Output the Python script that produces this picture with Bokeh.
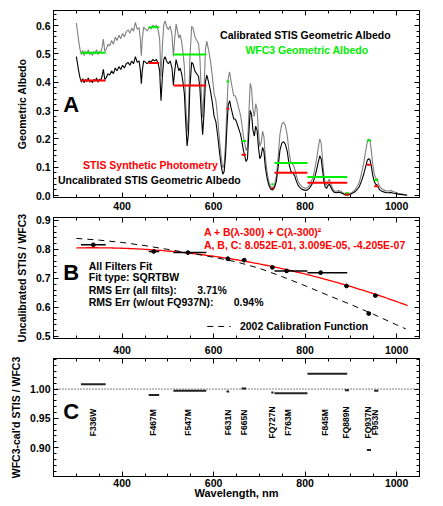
import numpy as np
from bokeh.plotting import figure
from bokeh.models import (LinearAxis, SingleIntervalTicker, FixedTicker, PrintfTickFormatter,
                          CustomJSTickFormatter, Range1d, Label, ColumnDataSource, Span)
from bokeh.layouts import column
from bokeh.embed import file_html
from bokeh.resources import INLINE
from bokeh.core.properties import value

FONT = "Liberation Sans"

# ---------------- data ----------------
spec_wl = [300, 305, 308, 311, 314, 317, 320, 323, 326, 329, 332, 335, 338, 341, 344, 347, 350, 353, 356, 359,
           362, 365, 369, 373, 377, 381, 385, 389, 393, 397, 401, 405, 409, 413, 417, 421, 425, 429, 433, 437,
           440, 442, 444, 447, 451, 455, 459, 463, 467, 471, 475, 479, 482, 485, 488, 491, 494, 497, 501, 505,
           509, 512, 515, 518, 521, 524, 527, 530, 533, 536, 539, 542, 545, 548, 552, 555, 559, 563, 567, 570,
           573, 576, 579, 582, 585, 589, 593, 597, 601, 605, 609, 613, 617, 620, 623, 626, 629, 632, 635, 638,
           641, 644, 647, 650, 653, 656, 659, 662, 665, 668, 671, 674, 677, 680, 683, 686, 689, 692, 695, 698,
           701, 704, 707, 710, 713, 717, 721, 725, 729, 733, 737, 741, 745, 749, 753, 757, 761, 765, 769, 773,
           777, 781, 785, 789, 793, 797, 801, 805, 809, 813, 817, 821, 825, 829, 832, 835, 838, 841, 844, 847,
           850, 853, 856, 859, 863, 868, 873, 878, 883, 888, 893, 898, 903, 908, 913, 918, 923, 928, 932, 936,
           939, 942, 945, 948, 951, 954, 957, 960, 963, 968, 973, 978, 983, 988, 993, 998, 1003, 1008, 1013, 1018,
           1023]

uncal_albedo = [0.49, 0.44, 0.415, 0.40, 0.412, 0.398, 0.41, 0.402, 0.415, 0.40, 0.408, 0.398, 0.41, 0.403, 0.415,
                0.40, 0.41, 0.405, 0.42, 0.445, 0.41, 0.415, 0.43, 0.425, 0.44, 0.43, 0.45, 0.44, 0.455, 0.445,
                0.46, 0.45, 0.465, 0.47, 0.46, 0.475, 0.465, 0.49, 0.47, 0.475, 0.44, 0.395, 0.44, 0.475, 0.47,
                0.465, 0.475, 0.47, 0.48, 0.475, 0.48, 0.465, 0.44, 0.335, 0.42, 0.48, 0.49, 0.475, 0.465, 0.475,
                0.45, 0.39, 0.44, 0.48, 0.46, 0.44, 0.45, 0.43, 0.40, 0.36, 0.26, 0.175, 0.22, 0.38, 0.47,
                0.465, 0.44, 0.43, 0.42, 0.38, 0.29, 0.215, 0.29, 0.40, 0.425, 0.40, 0.37, 0.33, 0.28, 0.26,
                0.21, 0.15, 0.10, 0.075, 0.085, 0.14, 0.24, 0.32, 0.335, 0.31, 0.29, 0.27, 0.27, 0.26, 0.245,
                0.23, 0.215, 0.19, 0.16, 0.14, 0.12, 0.13, 0.22, 0.30, 0.285, 0.23, 0.21, 0.245, 0.23, 0.17,
                0.13, 0.14, 0.17, 0.155, 0.10, 0.06, 0.035, 0.022, 0.02, 0.028, 0.05, 0.10, 0.16, 0.185, 0.19,
                0.18, 0.155, 0.11, 0.085, 0.08, 0.07, 0.05, 0.035, 0.028, 0.022, 0.02, 0.018, 0.02, 0.025, 0.035,
                0.045, 0.065, 0.09, 0.12, 0.14, 0.13, 0.09, 0.05, 0.03, 0.025, 0.035, 0.04, 0.03, 0.02, 0.012,
                0.01, 0.012, 0.01, 0.006, 0.002, 0.002, 0.004, 0.008, 0.012, 0.02, 0.03, 0.05, 0.075, 0.10, 0.125,
                0.13, 0.125, 0.10, 0.07, 0.05, 0.04, 0.038, 0.028, 0.02, 0.015, 0.012, 0.01, 0.01, 0.011, 0.008,
                0.007, 0.005, 0.004, 0.003, 0.002, 0.001]

cal_albedo = [0.609, 0.546, 0.515, 0.497, 0.512, 0.494, 0.509, 0.499, 0.515, 0.497, 0.507, 0.494, 0.509, 0.500,
              0.515, 0.497, 0.509, 0.503, 0.521, 0.552, 0.509, 0.515, 0.534, 0.528, 0.547, 0.534, 0.559, 0.547,
              0.566, 0.553, 0.572, 0.560, 0.578, 0.585, 0.573, 0.591, 0.580, 0.611, 0.586, 0.593, 0.549, 0.493,
              0.550, 0.594, 0.587, 0.581, 0.594, 0.588, 0.601, 0.595, 0.601, 0.583, 0.552, 0.420, 0.527, 0.603,
              0.616, 0.597, 0.585, 0.598, 0.567, 0.491, 0.554, 0.605, 0.581, 0.556, 0.568, 0.543, 0.506, 0.455,
              0.329, 0.222, 0.279, 0.482, 0.597, 0.591, 0.560, 0.548, 0.536, 0.485, 0.370, 0.275, 0.371, 0.513,
              0.545, 0.514, 0.475, 0.424, 0.360, 0.335, 0.271, 0.194, 0.129, 0.097, 0.110, 0.182, 0.311, 0.415,
              0.436, 0.404, 0.377, 0.352, 0.352, 0.340, 0.321, 0.301, 0.282, 0.249, 0.210, 0.184, 0.158, 0.171,
              0.290, 0.396, 0.376, 0.304, 0.278, 0.324, 0.305, 0.225, 0.173, 0.187, 0.227, 0.207, 0.134, 0.080,
              0.047, 0.030, 0.027, 0.038, 0.068, 0.136, 0.217, 0.252, 0.259, 0.246, 0.212, 0.151, 0.117, 0.110,
              0.096, 0.069, 0.048, 0.039, 0.031, 0.028, 0.025, 0.028, 0.035, 0.049, 0.063, 0.092, 0.128, 0.171,
              0.200, 0.186, 0.129, 0.072, 0.043, 0.036, 0.050, 0.058, 0.043, 0.029, 0.017, 0.015, 0.018, 0.015,
              0.009, 0.003, 0.003, 0.006, 0.012, 0.018, 0.030, 0.045, 0.076, 0.114, 0.152, 0.191, 0.199, 0.192,
              0.154, 0.108, 0.077, 0.062, 0.059, 0.043, 0.031, 0.023, 0.019, 0.016, 0.016, 0.018, 0.013, 0.011,
              0.008, 0.006, 0.005, 0.003, 0.002]

filters = ["F336W", "F467M", "F547M", "F631N", "F665N", "FQ727N", "F763M", "F845M", "FQ889N", "FQ937N", "F953N"]
filter_pivot = [335.5, 468.3, 544.7, 630.4, 665.6, 727.5, 762.3, 843.6, 889.2, 937.2, 952.9]
filter_wl = [337, 469, 544, 631, 667, 728.5, 759.5, 834, 890.5, 939, 953.5]
band_lo = [310, 458, 512, 628, 661, 726, 733, 805, 887, 935, 951]
band_hi = [364, 481, 584, 634, 671, 731, 805, 892, 896, 944, 960]

wfc3_albedo = [0.504, 0.594, 0.498, 0.402, 0.192, 0.040, 0.115, 0.065, 0.008, 0.194, 0.055]
stis_synth_albedo = [0.406, 0.468, 0.388, 0.306, 0.144, 0.026, 0.080, 0.045, 0.004, 0.109, 0.033]

ratio_uncal = [0.816, 0.793, 0.789, 0.768, 0.763, 0.738, 0.726, 0.720, 0.674, 0.579, 0.641]
ratio_cal = [1.008, 0.990, 0.997, 0.996, 1.001, 0.994, 0.993, 1.026, 0.998, 0.896, 0.997]

fit_A, fit_B, fit_C = 8.052e-01, 3.009e-05, -4.205e-07

cal2002_wl = [300, 350, 400, 450, 500, 550, 600, 650, 700, 750, 800, 850, 900, 950, 1000, 1020]
cal2002_ratio = [0.838, 0.832, 0.824, 0.813, 0.800, 0.787, 0.773, 0.757, 0.735, 0.706, 0.675, 0.642, 0.610,
                 0.576, 0.540, 0.526]

# ---------------- helpers ----------------
FW = 366
BLANK = CustomJSTickFormatter(code="return '';")


def style_axis(ax, labels=True, size="10.5px"):
    ax.major_tick_in = 5
    ax.major_tick_out = 0
    ax.minor_tick_in = 3
    ax.minor_tick_out = 0
    ax.axis_line_color = "black"
    ax.major_tick_line_color = "black"
    ax.minor_tick_line_color = "black"
    ax.major_label_text_font = FONT
    ax.major_label_text_font_style = "bold"
    ax.major_label_text_color = "black"
    ax.axis_label_text_font = FONT
    ax.axis_label_text_font_style = "bold"
    ax.axis_label_text_font_size = "10.5px"
    ax.axis_label_text_color = "black"
    if labels:
        ax.major_label_text_font_size = size
    else:
        ax.formatter = BLANK
        ax.major_label_text_font_size = "1px"
        ax.major_label_standoff = 0


def make_fig(yr, fh, top, bottom, yticker, yfmt, ylabel, xstand):
    p = figure(frame_width=FW, frame_height=fh, x_range=Range1d(250, 1050), y_range=Range1d(*yr),
               output_backend="svg", toolbar_location=None,
               min_border_left=53, min_border_right=6, min_border_top=top, min_border_bottom=bottom,
               background_fill_color="white", border_fill_color="white")
    p.xgrid.visible = False
    p.ygrid.visible = False
    p.outline_line_color = "black"
    p.outline_line_width = 1
    xt = SingleIntervalTicker(interval=200, num_minor_ticks=4)
    xb = p.below[0]
    yl = p.left[0]
    xb.ticker = xt
    yl.ticker = yticker
    yl.formatter = PrintfTickFormatter(format=yfmt)
    yl.axis_label = ylabel
    style_axis(xb)
    style_axis(yl)
    xb.major_label_standoff = xstand
    yl.major_label_standoff = 3
    yl.axis_label_standoff = 5
    ta = LinearAxis(ticker=xt)
    style_axis(ta, labels=False)
    p.add_layout(ta, "above")
    ra = LinearAxis(ticker=yticker)
    style_axis(ra, labels=False)
    p.add_layout(ra, "right")
    return p


def lab(p, x, y, text, size="10.5px", color="black", align="left"):
    p.add_layout(Label(x=x, y=y, text=text, text_font=FONT, text_font_size=size, text_font_style="bold",
                       text_color=color, text_align=align, text_baseline="middle"))


# ---------------- panel A ----------------
pA = make_fig((-0.007, 0.653), 187, 10, 17, SingleIntervalTicker(interval=0.1, num_minor_ticks=5),
              "%.1f", "Geometric Albedo", 4)
pA.line(spec_wl, cal_albedo, line_color="#808080", line_width=1.1)
pA.line(spec_wl, uncal_albedo, line_color="black", line_width=1.1)
pA.segment(x0=band_lo, y0=wfc3_albedo, x1=band_hi, y1=wfc3_albedo, line_color="#00ee00", line_width=2)
pA.segment(x0=band_lo, y0=stis_synth_albedo, x1=band_hi, y1=stis_synth_albedo, line_color="#ff0000",
           line_width=2)
lab(pA, 801, 0.565, "Calibrated STIS Geometric Albedo", align="center")
lab(pA, 804, 0.512, "WFC3 Geometric Albedo", color="#00ee00", align="center")
lab(pA, 462, 0.106, "STIS Synthetic Photometry", color="#ff0000", align="center")
lab(pA, 460, 0.055, "Uncalibrated STIS Geometric Albedo", align="center")
lab(pA, 271.5, 0.32, "A", size="22px")

# ---------------- panel B ----------------
pB = make_fig((0.493, 0.910), 121, 3, 19, SingleIntervalTicker(interval=0.1, num_minor_ticks=5),
              "%.1f", "Uncalibrated STIS / WFC3", 7)
fit_wl = np.linspace(300, 1024, 146)
fit_ratio = fit_A + fit_B * (fit_wl - 300) + fit_C * (fit_wl - 300) ** 2
pB.line(fit_wl, fit_ratio, line_color="#ff0000", line_width=1.3)
pB.line(cal2002_wl, cal2002_ratio, line_color="black", line_width=1, line_dash="6 5")
pB.segment(x0=band_lo, y0=ratio_uncal, x1=band_hi, y1=ratio_uncal, line_color="black", line_width=1.5)
pB.scatter(filter_wl, ratio_uncal, size=3.8, color="black")
lab(pB, 578.7, 0.859, "A + B(\u03bb-300) + C(\u03bb-300)\u00b2", color="#ff0000")
lab(pB, 578.7, 0.816, "A, B, C:  8.052E-01,  3.009E-05, -4.205E-07", color="#ff0000")
lab(pB, 271.5, 0.722, "B", size="22px")
lab(pB, 327, 0.742, "All Filters Fit")
lab(pB, 327, 0.7045, "Fit type: SQRTBW")
lab(pB, 327, 0.6586, "RMS Err (all filts):")
lab(pB, 564, 0.6586, "3.71%")
lab(pB, 327, 0.6183, "RMS Err (w/out FQ937N):")
lab(pB, 644, 0.6183, "0.94%")
pB.line([586, 637], [0.5345, 0.5345], line_color="black", line_width=1, line_dash="6 5")
lab(pB, 657.5, 0.5345, "2002 Calibration Function")

# ---------------- panel C ----------------
c_minor = [round(v, 2) for v in np.arange(0.86, 1.05, 0.01)]
pC = make_fig((0.851, 1.052), 118, 1, 26, FixedTicker(ticks=[0.90, 0.95, 1.00], minor_ticks=c_minor),
              "%.2f", "WFC3-cal'd STIS / WFC3", 2)
xbC = pC.below[0]
xbC.axis_label = "Wavelength, nm"
xbC.axis_label_standoff = -3
xbC.axis_label_text_font_size = "11px"
pC.add_layout(Span(location=1.0, dimension="width", line_color="black", line_width=1, line_dash="1 2"))
pC.segment(x0=band_lo, y0=ratio_cal, x1=band_hi, y1=ratio_cal, line_color="#222222", line_width=2)
label_src = ColumnDataSource(dict(x=filter_pivot, y=[0.943] * len(filters), t=filters))
pC.text(x="x", y="y", text="t", source=label_src, angle=np.pi / 2, text_align="center",
        text_baseline="middle", text_font=value(FONT), text_font_size=value("8.5px"),
        text_font_style="bold", text_color="black")
lab(pC, 271.5, 0.961, "C", size="22px")

layout = column(pA, pB, pC, spacing=0)
open("out.html", "w").write(file_html(layout, INLINE))
